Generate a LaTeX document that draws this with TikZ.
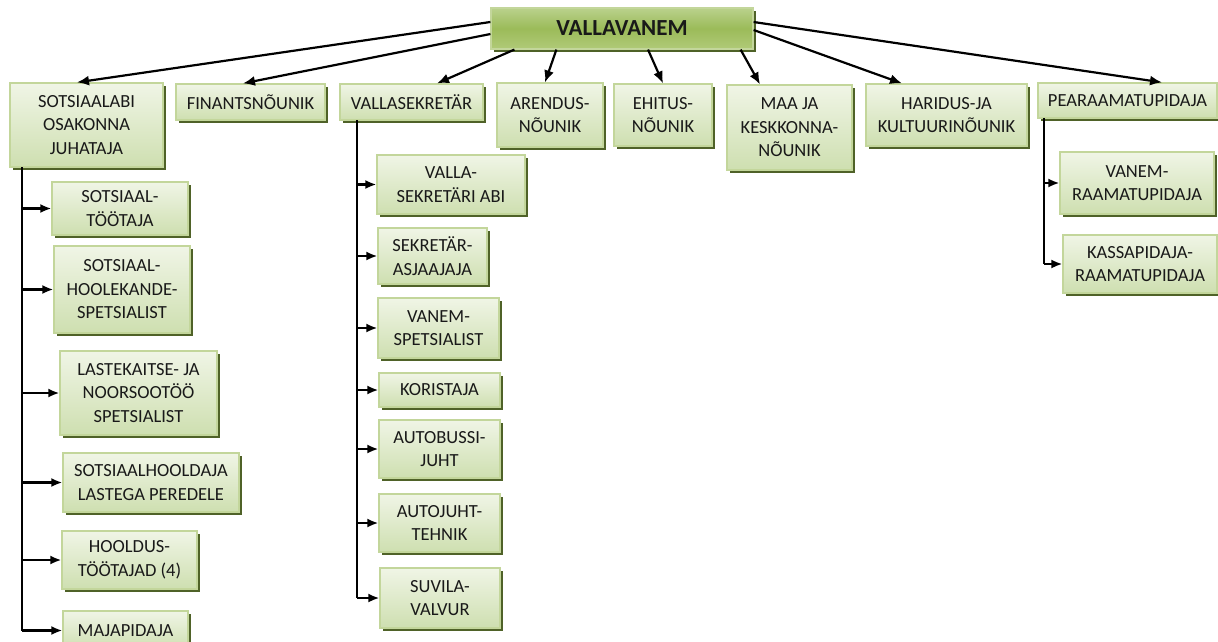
\documentclass[tikz,border=0pt]{standalone}
\usepackage{fontspec}
\setmainfont{Carlito}
\usetikzlibrary{arrows.meta,shadows}
\definecolor{unittop}{HTML}{F0F5E6}
\definecolor{unitbot}{HTML}{CEDFB0}
\definecolor{unitline}{HTML}{C3D69B}
\definecolor{unitshadow}{HTML}{4F6228}
\definecolor{headtop}{HTML}{BAD18C}
\definecolor{headmid}{HTML}{9BBB59}
\definecolor{headbot}{HTML}{B0CA78}
\tikzset{
  unit/.style={rectangle,draw=unitline,line width=1.2pt,top color=unittop,bottom color=unitbot,
    drop shadow={shadow xshift=3pt,shadow yshift=-3pt,fill=unitshadow,opacity=1},
    align=center,inner sep=0pt,text=black!90,font=\fontsize{18.5}{23.5}\selectfont},
  head/.style={unit,top color=headtop,bottom color=headbot,middle color=headmid,
    font=\fontsize{23}{27}\selectfont\bfseries},
  boss/.style={-{Latex[length=12pt,width=10pt]},line width=2.2pt},
  spine/.style={line width=2pt},
  sub/.style={-{Latex[length=11pt,width=9pt]},line width=2.2pt}
}
\begin{document}
\begin{tikzpicture}[x=1pt,y=-1pt]
  \useasboundingbox (0,0) rectangle (1218,642);

  % top
  \node[head,minimum width=262,minimum height=41] (vallavanem) at (622,28.5) {VALLAVANEM};

  % first row
  \node[unit,minimum width=153,minimum height=84] (sotsjuh) at (86.5,125) {SOTSIAALABI\\OSAKONNA\\JUHATAJA};
  \node[unit,minimum width=149,minimum height=36] (finants) at (250.5,102) {FINANTSNÕUNIK};
  \node[unit,minimum width=143,minimum height=36] (vallasekr) at (411.5,102) {VALLASEKRETÄR};
  \node[unit,minimum width=106,minimum height=64] (arend) at (550,115) {ARENDUS-\\NÕUNIK};
  \node[unit,minimum width=98,minimum height=62] (ehitus) at (663,115) {EHITUS-\\NÕUNIK};
  \node[unit,minimum width=125,minimum height=85] (maaja) at (789.5,127.5) {MAA JA\\KESKKONNA-\\NÕUNIK};
  \node[unit,minimum width=161,minimum height=62] (haridus) at (946.5,115) {HARIDUS-JA\\KULTUURINÕUNIK};
  \node[unit,minimum width=179,minimum height=35] (pearaamat) at (1127.5,100.5) {PEARAAMATUPIDAJA};

  % sotsiaalabi
  \node[unit,minimum width=136,minimum height=53] (sotstoo) at (120,208.5) {SOTSIAAL-\\TÖÖTAJA};
  \node[unit,minimum width=136,minimum height=87] (hoolek) at (122,289.5) {SOTSIAAL-\\HOOLEKANDE-\\SPETSIALIST};
  \node[unit,minimum width=157,minimum height=84] (lastek) at (138.5,393) {LASTEKAITSE- JA\\NOORSOOTÖÖ\\SPETSIALIST};
  \node[unit,minimum width=176,minimum height=59] (hooldaja) at (151,482.5) {SOTSIAALHOOLDAJA\\LASTEGA PEREDELE};
  \node[unit,minimum width=135,minimum height=58] (hooldus) at (129.5,560) {HOOLDUS-\\TÖÖTAJAD (4)};
  \node[unit,minimum width=125,minimum height=39] (majap) at (125.5,630.5) {MAJAPIDAJA};

  % vallasekretär
  \node[unit,minimum width=148,minimum height=59] (sekrabi) at (451,184.5) {VALLA-\\SEKRETÄRI ABI};
  \node[unit,minimum width=109,minimum height=56] (asjaaj) at (432.5,256) {SEKRETÄR-\\ASJAAJAJA};
  \node[unit,minimum width=121,minimum height=60] (vanemsp) at (438.5,328) {VANEM-\\SPETSIALIST};
  \node[unit,minimum width=121,minimum height=34] (korist) at (439.5,390) {KORISTAJA};
  \node[unit,minimum width=121,minimum height=58] (bussijuht) at (439.5,449) {AUTOBUSSI-\\JUHT};
  \node[unit,minimum width=121,minimum height=58] (autojuht) at (439.5,523) {AUTOJUHT-\\TEHNIK};
  \node[unit,minimum width=120,minimum height=60] (suvila) at (440,598) {SUVILA-\\VALVUR};

  % pearaamatupidaja
  \node[unit,minimum width=154,minimum height=62] (vanemraam) at (1137,183) {VANEM-\\RAAMATUPIDAJA};
  \node[unit,minimum width=154,minimum height=58] (kassa) at (1140,264) {KASSAPIDAJA-\\RAAMATUPIDAJA};

  % arrows from the top
  \draw[boss] ([yshift=6.5pt]vallavanem.west) -- ([xshift=-9.5pt]sotsjuh.north);
  \draw[boss] ([yshift=-5.5pt]vallavanem.west) -- ([xshift=-7.5pt]finants.north);
  \draw[boss] ([xshift=24pt]vallavanem.south west) -- ([xshift=25.5pt]vallasekr.north);
  \draw[boss] ([xshift=66pt]vallavanem.south west) -- ([xshift=-5pt]arend.north);
  \draw[boss] ([xshift=26pt]vallavanem.south) -- (ehitus.north);
  \draw[boss] ([xshift=-13pt]vallavanem.south east) -- ([xshift=-29.5pt]maaja.north);
  \draw[boss] ([yshift=-1.5pt]vallavanem.east) -- ([xshift=-44.5pt]haridus.north);
  \draw[boss] ([yshift=6.5pt]vallavanem.east) -- ([xshift=34.5pt]pearaamat.north);

  % spines
  \coordinate (lspine) at (22,167);
  \coordinate (mspine) at (357,120);
  \coordinate (rspine) at (1044,118);
  \draw[spine] (lspine) -- (lspine |- majap.west);
  \draw[spine] (mspine) -- (mspine |- suvila.west);
  \draw[spine] (rspine) -- (rspine |- kassa.west);
  \foreach \b in {sotstoo,hoolek,lastek,hooldaja,hooldus,majap}
    \draw[sub] (lspine |- \b.west) -- (\b.west);
  \foreach \b in {sekrabi,asjaaj,vanemsp,korist,bussijuht,autojuht,suvila}
    \draw[sub] (mspine |- \b.west) -- (\b.west);
  \foreach \b in {vanemraam,kassa}
    \draw[sub] (rspine |- \b.west) -- (\b.west);
\end{tikzpicture}
\end{document}
